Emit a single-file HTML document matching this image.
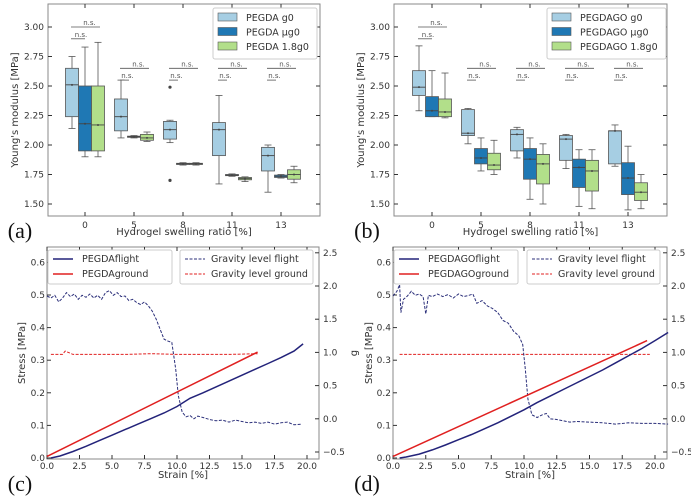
<!DOCTYPE html>
<html><head><meta charset="utf-8">
<style>
html,body{margin:0;padding:0;background:#fff;}
svg{display:block;font-family:"DejaVu Sans","Liberation Sans",sans-serif;}
</style></head>
<body>
<svg id="fig" width="691" height="501" viewBox="0 0 691 501" xmlns="http://www.w3.org/2000/svg"></svg>
<script>
// ---------- DATA ----------
const cats = ['0','5','8','11','13'];
const yTicksBox = [1.50,1.75,2.00,2.25,2.50,2.75,3.00];
const seriesA = ['PEGDA g0','PEGDA \u00b5g0','PEGDA 1.8g0'];
const seriesB = ['PEGDAGO g0','PEGDAGO \u00b5g0','PEGDAGO 1.8g0'];
// [whiskerLow, q1, median, q3, whiskerHigh] per category per series
const aLight = [[2.14,2.24,2.51,2.65,2.75],[2.06,2.12,2.24,2.39,2.55],[2.02,2.05,2.13,2.20,2.21],[1.67,1.91,2.13,2.19,2.42],[1.60,1.78,1.91,1.98,2.00]];
const aDark  = [[1.90,1.95,2.18,2.50,2.83],[2.06,2.065,2.07,2.075,2.08],[1.83,1.835,1.84,1.845,1.85],[1.735,1.74,1.745,1.75,1.755],[1.72,1.725,1.735,1.745,1.75]];
const aGreen = [[1.90,1.95,2.17,2.50,2.87],[2.03,2.04,2.06,2.09,2.11],[1.83,1.835,1.84,1.845,1.85],[1.69,1.705,1.715,1.725,1.73],[1.68,1.71,1.75,1.79,1.82]];
const aOutliers = [[2,0,2.49],[2,0,1.70]];
const bLight = [[2.29,2.42,2.49,2.63,2.84],[2.01,2.08,2.10,2.30,2.31],[1.89,1.95,2.09,2.13,2.15],[1.80,1.87,2.05,2.08,2.09],[1.82,1.84,2.12,2.12,2.17]];
const bDark  = [[2.24,2.24,2.29,2.41,2.63],[1.78,1.84,1.89,1.97,2.06],[1.54,1.71,1.88,1.97,2.06],[1.48,1.64,1.81,1.88,1.96],[1.45,1.58,1.72,1.85,1.99]];
const bGreen = [[2.23,2.24,2.28,2.39,2.61],[1.75,1.79,1.83,1.93,2.04],[1.50,1.67,1.84,1.92,2.01],[1.46,1.61,1.78,1.87,1.96],[1.46,1.53,1.60,1.68,1.75]];
const strainTicks = [0,2.5,5,7.5,10,12.5,15,17.5,20];
const stressTicks = [0.0,0.1,0.2,0.3,0.4,0.5,0.6];
const gTicks = [-0.5,0.0,0.5,1.0,1.5,2.0,2.5];
// stress-strain
const cFlightX = [0.3,1,2,3,4,5,6,7,8,9,10,11,12,13,14,15,16,17,18,19,19.7];
const cFlightY = [0.0,0.006,0.02,0.036,0.053,0.07,0.087,0.104,0.121,0.138,0.158,0.183,0.2,0.218,0.236,0.254,0.272,0.29,0.308,0.328,0.35];
const cGroundX = [0,16.2];
const cGroundY = [0.005,0.325];
const dFlightX = [0.5,1,2,3,4,5,6,7,8,9,10,11,12,13,14,15,16,17,18,19,20,21];
const dFlightY = [0.0,0.003,0.012,0.025,0.04,0.056,0.072,0.09,0.108,0.128,0.148,0.17,0.19,0.21,0.23,0.25,0.27,0.292,0.314,0.336,0.36,0.385];
const dGroundX = [0,19.4];
const dGroundY = [0.005,0.36];
// gravity levels
const cGravX = [0,0.3,0.6,0.9,1.2,1.5,1.8,2.1,2.4,2.7,3,3.3,3.6,3.9,4.2,4.5,4.8,5.1,5.4,5.7,6,6.3,6.6,6.9,7.2,7.5,7.8,8.1,8.4,8.7,9,9.3,9.6,9.9,10.1,10.4,10.7,11,11.3,11.6,12,12.5,13,13.5,14,14.5,15,15.5,16,16.5,17,17.5,18,18.5,19,19.6];
const cGravY = [1.85,1.82,1.86,1.76,1.82,1.9,1.84,1.88,1.8,1.86,1.83,1.88,1.82,1.86,1.8,1.9,1.93,1.86,1.9,1.84,1.85,1.78,1.8,1.75,1.72,1.76,1.7,1.62,1.5,1.35,1.2,1.17,1.15,0.75,0.35,0.1,0.03,0.05,0.0,0.04,0.02,-0.01,-0.03,-0.02,-0.05,-0.02,-0.04,-0.06,-0.05,-0.07,-0.05,-0.08,-0.06,-0.05,-0.09,-0.08];
const cGGroundX = [0.3,1.2,1.4,2,4,6,8,10,12,14,16.2];
const cGGroundY = [0.97,0.97,1.02,0.97,0.97,0.97,0.98,0.97,0.97,0.97,0.98];
const dGravX = [0,0.3,0.5,0.6,0.8,1.1,1.4,1.7,2,2.3,2.5,2.7,3,3.4,3.8,4.2,4.6,5,5.4,5.8,6.1,6.4,6.8,7.2,7.6,8,8.4,8.8,9.2,9.6,9.9,10.1,10.3,10.6,11,11.4,11.7,12,12.5,13,13.5,14,15,16,17,18,19,20,21];
const dGravY = [1.85,1.92,2.02,1.6,1.8,1.85,1.92,1.86,1.88,1.84,1.58,1.86,1.84,1.88,1.84,1.87,1.82,1.88,1.84,1.86,1.88,1.74,1.78,1.7,1.66,1.6,1.48,1.44,1.32,1.25,1.12,0.75,0.3,0.06,0.02,0.06,0.08,0.0,-0.01,-0.03,-0.05,-0.04,-0.05,-0.06,-0.08,-0.06,-0.07,-0.07,-0.08];
const dGGroundX = [0.5,4,8,10,12,16,19.6];
const dGGroundY = [0.97,0.97,0.97,0.97,0.97,0.97,0.97];

// ---------- HELPERS ----------
const NS='http://www.w3.org/2000/svg';
const svg=document.getElementById('fig');
function mk(tag, attrs, name, parent){
  const el=document.createElementNS(NS,tag);
  for(const k in attrs) el.setAttribute(k, attrs[k]);
  
  
  (parent||svg).appendChild(el);
  return el;
}
function txt(x,y,s,name,opts){
  opts=opts||{};
  const t=mk('text',{x:x,y:y,'font-size':opts.size||9,fill:opts.fill||'#333','text-anchor':opts.anchor||'middle'},name);
  if(opts.family) t.setAttribute('font-family',opts.family);
  if(opts.rot) t.setAttribute('transform','rotate('+opts.rot+' '+x+' '+y+')');
  t.textContent=s;
  return t;
}
const COLS=['#a6cee3','#1f78b4','#b2df8a'];
const FR='#8a8a8a';

function boxPanel(P){
  const L=P.left,R=P.right,T=4,B=216;
  const y=v=>204-(v-1.5)/0.25*29.5;
  const x=i=>P.x0+i*49;
  mk('rect',{x:L,y:T,width:R-L,height:B-T,fill:'none',stroke:FR,'stroke-width':1},P.id+'-frame');
  yTicksBox.forEach(v=>{
    mk('line',{x1:L,x2:L+4,y1:y(v),y2:y(v),stroke:'#333'},P.id+'-ytick');
    mk('line',{x1:R,x2:R-4,y1:y(v),y2:y(v),stroke:'#333'},P.id+'-ytick-right');
    txt(L-4,y(v)+3,v.toFixed(2),P.id+'-ytick-label',{anchor:'end'});
  });
  cats.forEach((c,i)=>{
    mk('line',{x1:x(i),x2:x(i),y1:B,y2:B-4,stroke:'#333'},P.id+'-xtick');
    mk('line',{x1:x(i),x2:x(i),y1:T,y2:T+4,stroke:'#333'},P.id+'-xtick-top');
    txt(x(i),B+12,c,P.id+'-xtick-label');
  });
  txt((L+R)/2,235,'Hydrogel swelling ratio [%]',P.id+'-x-axis-title',{size:10});
  txt(P.ylabX,110,"Young's modulus [MPa]",P.id+'-y-axis-title',{size:10,rot:-90});
  txt(P.tagX,238,P.tag,P.id+'-panel-label',{size:22,fill:'#111',family:'"Liberation Serif",serif'});
  P.data.forEach((ser,s)=>{
    ser.forEach((d,i)=>{
      const cx=x(i)+(s-1)*13, w=13;
      mk('line',{x1:cx,x2:cx,y1:y(d[0]),y2:y(d[4]),stroke:'#555','stroke-width':0.8},P.id+'-whisker');
      mk('line',{x1:cx-3.5,x2:cx+3.5,y1:y(d[0]),y2:y(d[0]),stroke:'#555','stroke-width':0.8},P.id+'-cap-low');
      mk('line',{x1:cx-3.5,x2:cx+3.5,y1:y(d[4]),y2:y(d[4]),stroke:'#555','stroke-width':0.8},P.id+'-cap-high');
      mk('rect',{x:cx-w/2,y:y(d[3]),width:w,height:Math.max(1,y(d[1])-y(d[3])),fill:COLS[s],stroke:'#555','stroke-width':0.8},P.id+'-box-'+cats[i]+'-'+s);
      mk('line',{x1:cx-w/2,x2:cx+w/2,y1:y(d[2]),y2:y(d[2]),stroke:'#444','stroke-width':0.9},P.id+'-median');
      mk('circle',{cx:cx,cy:y(d[2]),r:1,fill:'#444'},P.id+'-point');
    });
  });
  (P.outliers||[]).forEach(o=>{
    mk('circle',{cx:x(o[0])+(o[1]-1)*13,cy:y(o[2]),r:1.6,fill:'#444'},P.id+'-outlier');
  });
  // significance brackets
  cats.forEach((c,i)=>{
    const top=i===0?3.00:2.65, low=i===0?2.90:2.55;
    const a=x(i)-14, b1=x(i)+15, b2=i===0?x(i):x(i)-5;
    mk('line',{x1:a,x2:b1,y1:y(top),y2:y(top),stroke:'#555','stroke-width':0.8},P.id+'-bracket');
    txt((a+b1)/2+4,y(top)-2,'n.s.',P.id+'-ns-label',{size:7,fill:'#555'});
    mk('line',{x1:a,x2:b2,y1:y(low),y2:y(low),stroke:'#555','stroke-width':0.8},P.id+'-bracket');
    txt((a+b2)/2+3,y(low)-2,'n.s.',P.id+'-ns-label',{size:7,fill:'#555'});
  });
  // legend
  const lg=P.legend;
  mk('rect',{x:lg.x,y:8,width:lg.w,height:51,fill:'#fff',stroke:'#ccc',rx:2},P.id+'-legend');
  P.names.forEach((n,s)=>{
    mk('rect',{x:lg.x+5,y:13+s*14.5,width:19,height:8,fill:COLS[s],stroke:'#555','stroke-width':0.6},P.id+'-legend-swatch');
    txt(lg.x+33,21+s*14.5,n,P.id+'-legend-entry',{anchor:'start',size:9.5});
  });
}
boxPanel({id:'a',left:48,right:320,x0:85,data:[aLight,aDark,aGreen],outliers:aOutliers,names:seriesA,legend:{x:213,w:104},ylabX:18,tag:'(a)',tagX:20});
boxPanel({id:'b',left:394,right:667,x0:432,data:[bLight,bDark,bGreen],names:seriesB,legend:{x:547,w:119},ylabX:364,tag:'(b)',tagX:367});

function ssPanel(P){
  const L=P.left,R=P.right,T=247,B=459;
  const x=v=>L+v*P.sx;
  const y=v=>458-v/0.1*32.6;
  const g=v=>452-(v+0.5)/0.5*33.2;
  mk('rect',{x:L,y:T,width:R-L,height:B-T,fill:'none',stroke:FR},P.id+'-frame');
  strainTicks.forEach(v=>{
    mk('line',{x1:x(v),x2:x(v),y1:B,y2:B-4,stroke:'#333'},P.id+'-xtick');
    mk('line',{x1:x(v),x2:x(v),y1:T,y2:T+4,stroke:'#333'},P.id+'-xtick-top');
    txt(x(v),B+10,v.toFixed(1),P.id+'-xtick-label');
  });
  stressTicks.forEach(v=>{
    mk('line',{x1:L,x2:L+4,y1:y(v),y2:y(v),stroke:'#333'},P.id+'-ytick');
    txt(L-2,y(v)+3,v.toFixed(1),P.id+'-ytick-label',{anchor:'end'});
  });
  gTicks.forEach(v=>{
    mk('line',{x1:R,x2:R-4,y1:g(v),y2:g(v),stroke:'#333'},P.id+'-gtick');
    txt(R+4,g(v)+3,(v<0?'\u2212'+Math.abs(v).toFixed(1):v.toFixed(1)),P.id+'-gtick-label',{anchor:'start'});
  });
  txt((L+R)/2,478,'Strain [%]',P.id+'-x-axis-title',{size:10});
  txt(P.ylabX,353,'Stress [MPa]',P.id+'-y-axis-title',{size:10,rot:-90});
  txt(P.tagX,491,P.tag,P.id+'-panel-label',{size:22,fill:'#111',family:'"Liberation Serif",serif'});
  const line=(xs,ys,f)=>xs.map((v,i)=>(i?'L':'M')+x(v).toFixed(1)+' '+f(ys[i]).toFixed(1)).join(' ');
  mk('path',{d:line(P.gg[0],P.gg[1],g),fill:'none',stroke:'#e02020','stroke-width':1,'stroke-dasharray':'3 1.5'},P.id+'-gravity-ground');
  mk('path',{d:line(P.gf[0],P.gf[1],g),fill:'none',stroke:'#2b2f7a','stroke-width':1,'stroke-dasharray':'3 1.5'},P.id+'-gravity-flight');
  mk('path',{d:line(P.fl[0],P.fl[1],y),fill:'none',stroke:'#23237a','stroke-width':1.5},P.id+'-stress-flight');
  mk('path',{d:line(P.gr[0],P.gr[1],y),fill:'none',stroke:'#e02020','stroke-width':1.5},P.id+'-stress-ground');
  // legends
  const l1=P.lg1, l2=P.lg2;
  mk('rect',{x:l1,y:250,width:124,height:34,fill:'#fff',stroke:'#ccc',rx:2},P.id+'-legend-left');
  mk('line',{x1:l1+5,x2:l1+25,y1:259,y2:259,stroke:'#23237a','stroke-width':1.5},P.id+'-legend-swatch');
  txt(l1+34,262,P.names[0],P.id+'-legend-entry',{anchor:'start',size:9.5});
  mk('line',{x1:l1+5,x2:l1+25,y1:274,y2:274,stroke:'#e02020','stroke-width':1.5},P.id+'-legend-swatch');
  txt(l1+34,277,P.names[1],P.id+'-legend-entry',{anchor:'start',size:9.5});
  mk('rect',{x:l2,y:250,width:133,height:34,fill:'#fff',stroke:'#ccc',rx:2},P.id+'-legend-right');
  mk('line',{x1:l2+5,x2:l2+25,y1:259,y2:259,stroke:'#2b2f7a','stroke-width':1,'stroke-dasharray':'3 1.5'},P.id+'-legend-swatch');
  txt(l2+31,262,'Gravity level flight',P.id+'-legend-entry',{anchor:'start',size:9.5});
  mk('line',{x1:l2+5,x2:l2+25,y1:274,y2:274,stroke:'#e02020','stroke-width':1,'stroke-dasharray':'3 1.5'},P.id+'-legend-swatch');
  txt(l2+31,277,'Gravity level ground',P.id+'-legend-entry',{anchor:'start',size:9.5});
}
ssPanel({id:'c',left:47,right:319,sx:13.0,fl:[cFlightX,cFlightY],gr:[cGroundX,cGroundY],gf:[cGravX,cGravY],gg:[cGGroundX,cGGroundY],names:['PEGDAflight','PEGDAground'],lg1:48,lg2:180,ylabX:25,tag:'(c)',tagX:20});
ssPanel({id:'d',left:393,right:667,sx:13.1,fl:[dFlightX,dFlightY],gr:[dGroundX,dGroundY],gf:[dGravX,dGravY],gg:[dGGroundX,dGGroundY],names:['PEGDAGOflight','PEGDAGOground'],lg1:394,lg2:527,ylabX:372,tag:'(d)',tagX:367});
txt(357,353,'g','c-g-axis-title',{size:10,rot:-90});
</script>
</body></html>
